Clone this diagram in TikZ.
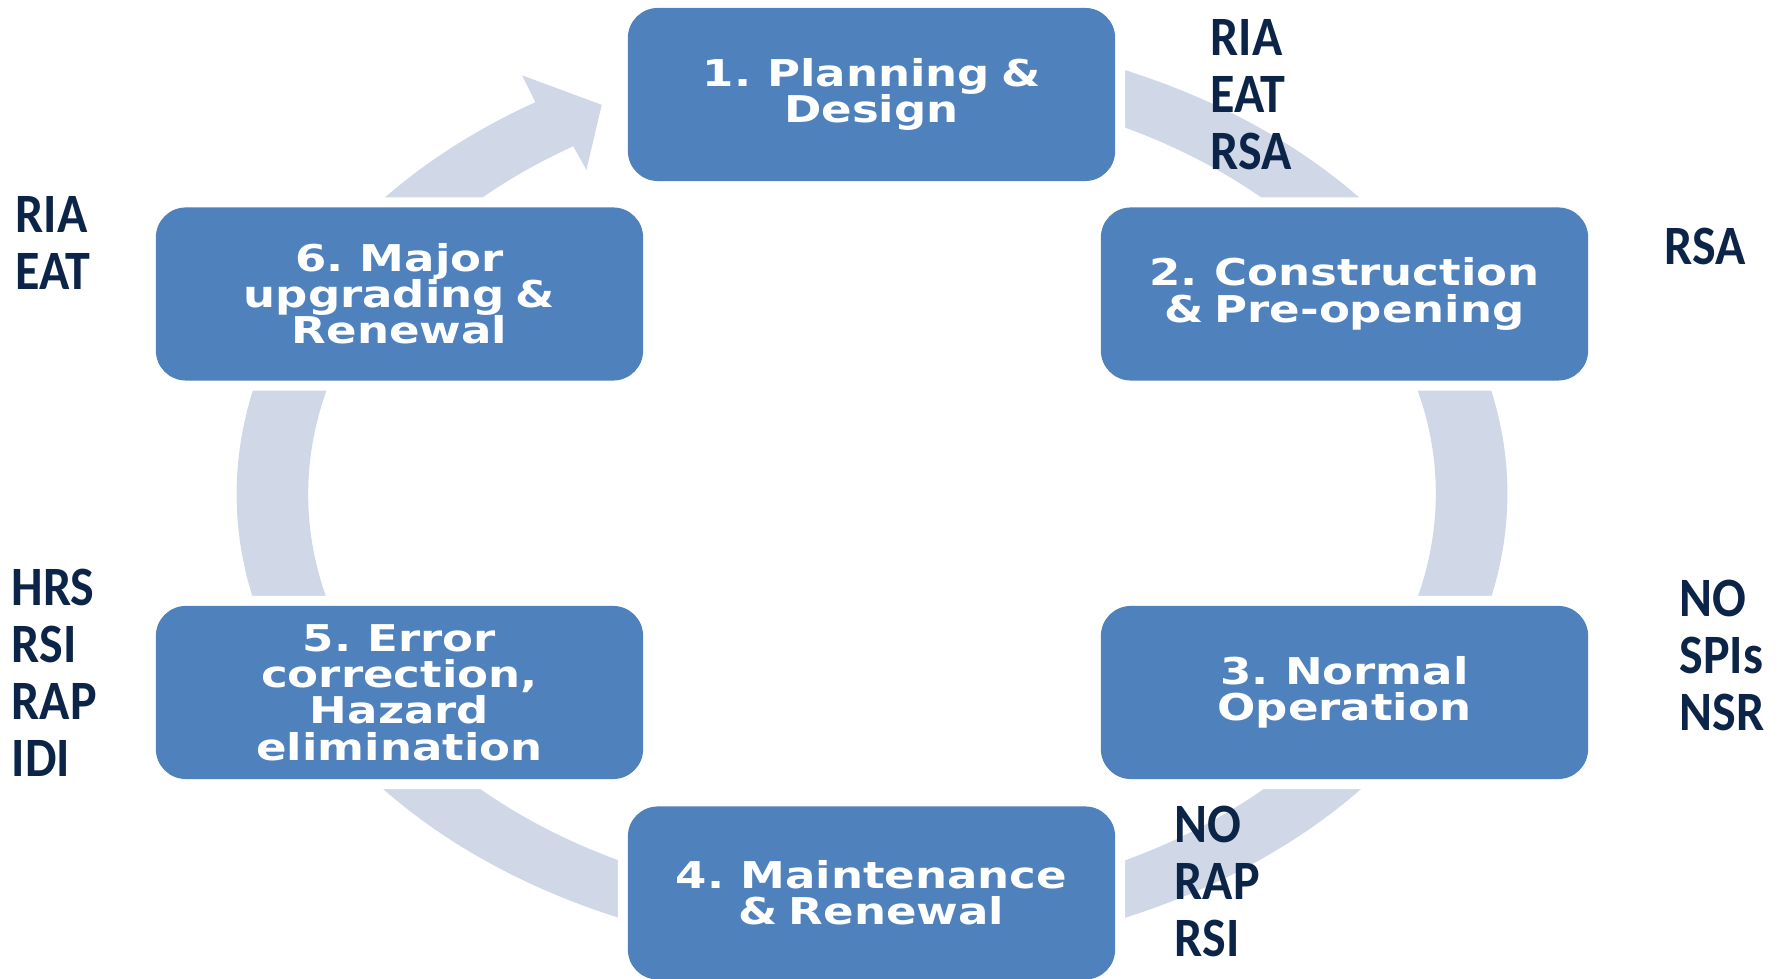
\documentclass[tikz,border=0pt]{standalone}
\usepackage{fontspec}
\usepackage{xcolor}
\usepackage{tikz}
\usetikzlibrary{positioning}
\newfontfamily\boxfont[FakeStretch=1.22, WordSpace=0.7]{DejaVu Sans}
\newfontfamily\tagfont[FakeStretch=0.9]{Carlito}
\definecolor{stageblue}{HTML}{4F81BD}
\definecolor{ringgrey}{HTML}{D0D8E8}
\definecolor{tagnavy}{HTML}{0B2447}

\begin{document}
\begin{tikzpicture}[x=0.01cm, y=0.01cm]
\tikzstyle{stage} = [rectangle, fill=stageblue, text=white, minimum width=4.87cm, minimum height=1.73cm, rounded corners=0.3cm, align=center, font=\boxfont\bfseries\fontsize{10.5}{10.3}\selectfont, preaction={draw=white, line width=0.2cm}]
\tikzstyle{tag} = [anchor=north west, inner sep=0pt, align=left, text=tagnavy, font=\tagfont\bfseries\fontsize{15.8}{16.2}\selectfont]

\useasboundingbox (0,0) rectangle (1781,979);

% cycle ring with its arrow head
\fill [ringgrey, shift={(872,485)}, xscale=1.375] (75:462) arc[start angle=75, end angle=-238, radius=462]
  -- (-238.7:490) -- (-243.2:436) -- (-237.35:385) -- (-238:410)
  arc[start angle=-238, end angle=75, radius=410] -- cycle;

\node (s1) [stage] at (871.5,884.5) {1. Planning \&\\Design};
\node (s2) [stage] at (1344.5,685) {2. Construction\\\& Pre-opening};
\node (s3) [stage] at (1344.5,286.5) {3. Normal\\Operation};
\node (s4) [stage] at (871.5,86) {4. Maintenance\\\& Renewal};
\node (s5) [stage] at (399.5,286.5) {5. Error\\correction,\\Hazard\\elimination};
\node (s6) [stage] at (399.5,685) {6. Major\\upgrading \&\\Renewal};

\node (t1) [tag] at (1210,960) {RIA\\EAT\\RSA};
\node (t2) [tag] at (1664,752) {RSA};
\node (t3) [tag] at (1679,400) {NO\\SPIs\\NSR};
\node (t4) [tag] at (1174,174) {NO\\RAP\\RSI};
\node (t5) [tag] at (11,411) {HRS\\RSI\\RAP\\IDI};
\node (t6) [tag] at (15,783) {RIA\\EAT};

\end{tikzpicture}
\end{document}
